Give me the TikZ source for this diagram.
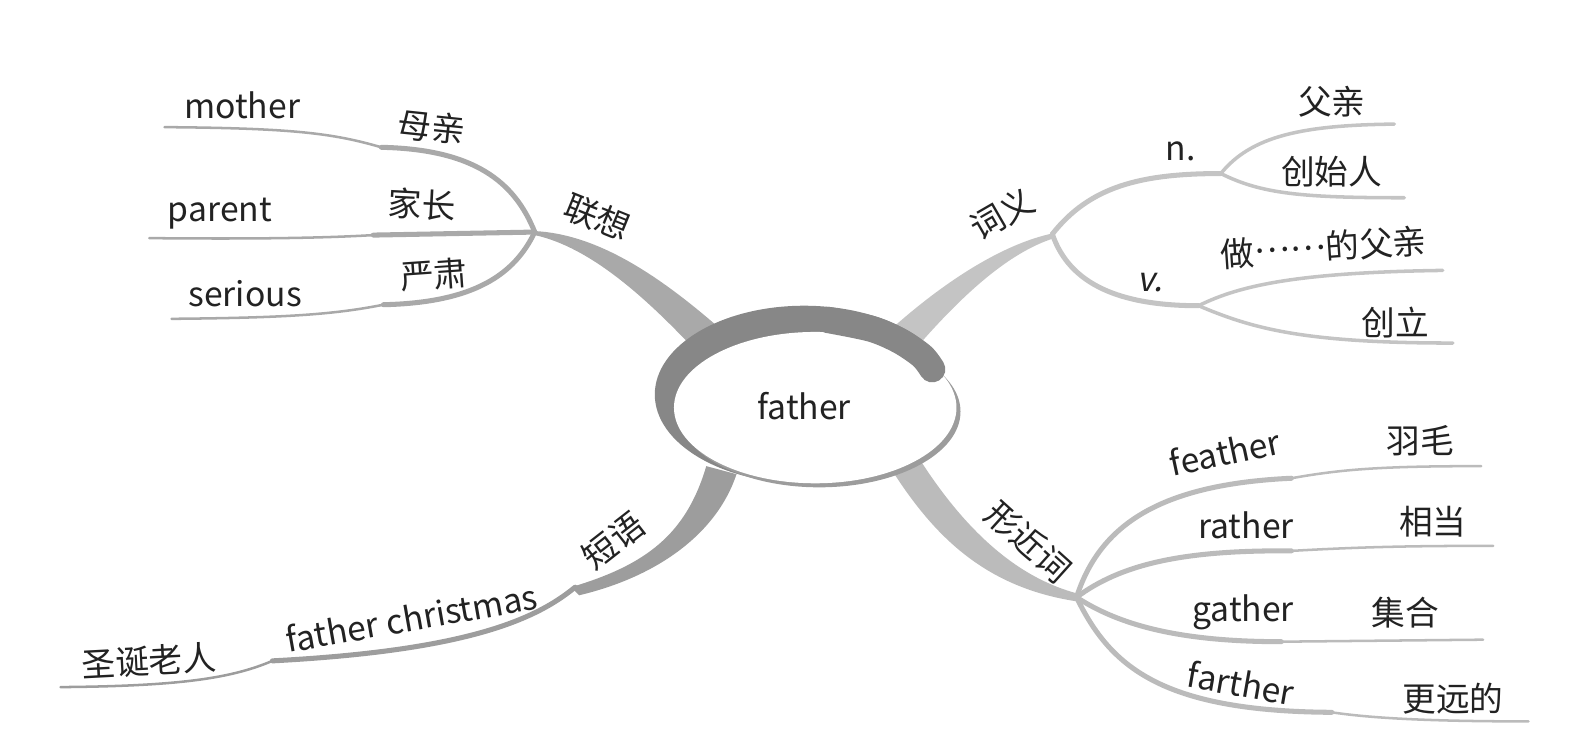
\documentclass[tikz,border=0pt]{standalone}
\usepackage{fontspec}
\setmainfont{Noto Sans CJK SC}
\newfontfamily\slantfont[FakeSlant=0.2]{Noto Sans CJK SC}
\usepackage{xcolor}
\definecolor{mmText}{HTML}{222222}
\definecolor{mmHub}{HTML}{878787}
\definecolor{mmShade}{HTML}{9C9C9C}
\definecolor{mmAssoc}{HTML}{A9A9A9}
\definecolor{mmMeaning}{HTML}{C4C4C4}
\definecolor{mmPhrase}{HTML}{9D9D9D}
\definecolor{mmSimilar}{HTML}{BBBBBB}
\tikzset{
    every picture/.style={
        font=\fontsize{19}{22}\selectfont,
        line join=round
    },
    % text on the map
    word/.style={text=mmText, inner sep=0pt, anchor=center},
    % branches
    thickline/.style={line width=0.1cm, line cap=round},
    midline/.style={line width=0.07cm, line cap=round},
    thinline/.style={line width=0.05cm, line cap=round}
}

\begin{document}
\begin{tikzpicture}[x=0.02cm, y=-0.02cm]
    \useasboundingbox (0,0) rectangle (1568,745);

    % Hubs
    \coordinate (assoc) at (530,230);
    \coordinate (meaning) at (1043,232);
    \coordinate (nhub) at (1210,172);
    \coordinate (vhub) at (1188,303);
    \coordinate (phrase) at (570,582);
    \coordinate (similar) at (1067,592);

    % Main branches
    \fill[mmAssoc] (530,229) .. controls (590,232) and (650,270) .. (714,326) -- (688,346) .. controls (640,295) and (585,245) .. (530,233) -- cycle;
    \fill[mmMeaning] (1045,231) .. controls (990,242) and (930,285) .. (888,322) -- (915,337) .. controls (955,292) and (1000,250) .. (1045,236) -- cycle;
    \fill[mmPhrase] (700,462) .. controls (680,530) and (640,560) .. (566,582) -- (574,590) .. controls (650,572) and (710,530) .. (730,470) -- cycle;
    \fill[mmSimilar] (884,466) .. controls (925,530) and (975,582) .. (1067,596) -- (1067,588) .. controls (1000,570) and (950,515) .. (912,456) -- cycle;

    % Associations
    \draw[mmAssoc, thickline] (assoc) .. controls (510,180) and (470,148) .. (378,146) coordinate (k1);
    \draw[mmAssoc, thinline] (k1) .. controls (330,132) and (290,127) .. (163,126) coordinate (e1);
    \draw[mmAssoc, thickline] (assoc) -- (370,233) coordinate (k2);
    \draw[mmAssoc, thinline] (k2) .. controls (320,236) and (250,237) .. (148,236) coordinate (e2);
    \draw[mmAssoc, thickline] (assoc) .. controls (510,272) and (470,300) .. (380,302) coordinate (k3);
    \draw[mmAssoc, thinline] (k3) .. controls (330,312) and (280,315) .. (170,316) coordinate (e3);

    % Meanings
    \draw[mmMeaning, thickline] (meaning) .. controls (1080,185) and (1130,172) .. (nhub);
    \draw[mmMeaning, midline] (nhub) .. controls (1240,135) and (1290,124) .. (1382,123) coordinate (e4);
    \draw[mmMeaning, midline] (nhub) .. controls (1250,192) and (1290,196) .. (1392,196) coordinate (e5);
    \draw[mmMeaning, thickline] (meaning) .. controls (1060,282) and (1110,303) .. (vhub);
    \draw[mmMeaning, midline] (vhub) .. controls (1230,282) and (1290,270) .. (1430,268) coordinate (e6);
    \draw[mmMeaning, midline] (vhub) .. controls (1240,325) and (1290,340) .. (1440,340) coordinate (e7);

    % Phrase
    \draw[mmPhrase, thickline] (phrase) .. controls (530,615) and (460,645) .. (270,655) coordinate (k8);
    \draw[mmPhrase, thinline] (k8) .. controls (230,672) and (180,680) .. (60,681) coordinate (e8);

    % Similar words
    \draw[mmSimilar, thickline] (similar) .. controls (1090,520) and (1150,480) .. (1280,474) coordinate (k9);
    \draw[mmSimilar, thinline] (k9) .. controls (1330,465) and (1370,462) .. (1468,462) coordinate (e9);
    \draw[mmSimilar, thickline] (similar) .. controls (1110,560) and (1170,545) .. (1280,546) coordinate (k10);
    \draw[mmSimilar, thinline] (k10) .. controls (1350,542) and (1400,541) .. (1480,541) coordinate (e10);
    \draw[mmSimilar, thickline] (similar) .. controls (1110,620) and (1170,636) .. (1270,636) coordinate (k11);
    \draw[mmSimilar, thinline] (k11) -- (1470,634) coordinate (e11);
    \draw[mmSimilar, thickline] (similar) .. controls (1100,660) and (1150,705) .. (1320,706) coordinate (k12);
    \draw[mmSimilar, thinline] (k12) .. controls (1360,712) and (1420,715) .. (1515,715) coordinate (e12);

    % Centre bubble
    \begin{scope}
        \clip (600,250) -- (1000,250) -- (1000,330) -- (797,391) -- (1000,405) -- (1000,520) -- (600,520) -- cycle;
        \fill[mmHub] (797,391) ellipse [x radius=148, y radius=88];
    \end{scope}
    \fill[mmShade] (812,408) ellipse [x radius=140, y radius=75];
    \fill[white] (808,404) ellipse [x radius=140, y radius=75];
    \draw[mmHub, line width=0.52cm, line cap=round] plot[smooth] coordinates {(820,317) (864,326) (892,338) (914,353) (924,366)};
    \node[word] at (797,402) (centre) {father};

    % Labels
    \node[word, rotate=-22] at (592,215) (assoclabel) {联想};
    \node[word] at (240,104) (mother) {mother};
    \node[word, rotate=-6] at (428,126) (mothercn) {母亲};
    \node[word] at (218,212) (parent) {parent};
    \node[word, rotate=-3] at (418,203) (parentcn) {家长};
    \node[word] at (243,291) (serious) {serious};
    \node[word, rotate=4] at (430,272) (seriouscn) {严肃};

    \node[word, rotate=30] at (993,212) (meaninglabel) {词义};
    \node[word] at (1170,150) (noun) {n.};
    \node[word] at (1320,101) (nounA) {父亲};
    \node[word] at (1320,170) (nounB) {创始人};
    \node[word] at (1140,280) (verb) {\slantfont v.};
    \node[word, rotate=4] at (1312,245) (verbA) {做\raisebox{0.33em}{……}的父亲};
    \node[word] at (1383,320) (verbB) {创立};

    \node[word, rotate=38] at (608,536) (phraselabel) {短语};
    \node[word, rotate=10] at (408,612) (christmas) {father christmas};
    \node[word, rotate=3] at (148,655) (christmascn) {圣诞老人};

    \node[word, rotate=-42] at (1019,537) (similarlabel) {形近词};
    \node[word, rotate=12] at (1214,448) (feather) {feather};
    \node[word] at (1408,437) (feathercn) {羽毛};
    \node[word] at (1235,521) (rather) {rather};
    \node[word] at (1420,517) (rathercn) {相当};
    \node[word] at (1232,607) (gather) {gather};
    \node[word] at (1393,607) (gathercn) {集合};
    \node[word, rotate=-10] at (1230,677) (farther) {farther};
    \node[word] at (1440,692) (farthercn) {更远的};
\end{tikzpicture}
\end{document}
